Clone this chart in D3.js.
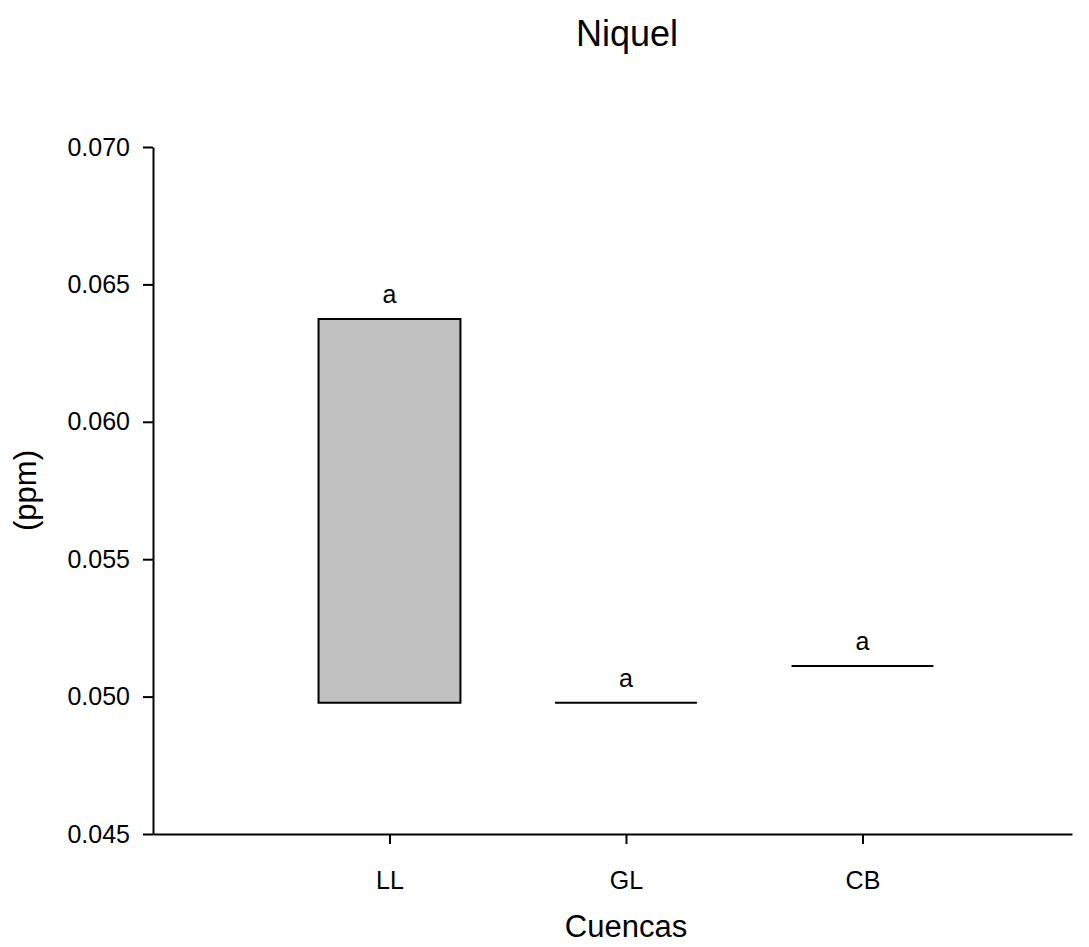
<!DOCTYPE html>
<html lang="es">
<head>
  <meta charset="UTF-8">
  <title>Niquel</title>
  <script src="https://d3js.org/d3.v7.min.js"></script>
  <style>
    body {
      margin: 0;
      background: #fff;
      font-family: Arial, "Liberation Sans", sans-serif;
    }
    .axis path, .axis line {
      stroke: #000;
      stroke-width: 2;
    }
    .axis text {
      font-size: 25px;
      fill: #000;
    }
  </style>
</head>
<body>
  <div id="chart"></div>
  <script>
    // datos (ppm)
    const cuencas = ["LL", "GL", "CB"];
    const q1 = [0.04978, 0.04978, 0.05111];
    const q3 = [0.06374, 0.04978, 0.05111];
    const letras = ["a", "a", "a"];
    const yTicks = [0.045, 0.050, 0.055, 0.060, 0.065, 0.070];

    const width = 1089, height = 947;

    const svg = d3.select("#chart")
      .append("svg")
      .attr("width", width)
      .attr("height", height);

    // posiciones 1,2,3 sobre un eje lineal
    const x = d3.scaleLinear().domain([0, 3.886]).range([153, 1072]);
    const y = d3.scaleLinear().domain([0.045, 0.070]).range([834, 147]);
    const boxW = x(0.6) - x(0);

    // eje y
    svg.append("g")
      .attr("class", "axis")
      .attr("transform", `translate(${x(0)},0)`)
      .call(d3.axisLeft(y).tickValues(yTicks).tickFormat(d3.format(".3f")).tickSize(10).tickSizeOuter(0).tickPadding(13));

    // eje x
    svg.append("g")
      .attr("class", "axis")
      .attr("transform", `translate(0,${y(0.045)})`)
      .call(d3.axisBottom(x).tickValues([1, 2, 3]).tickFormat((d, i) => cuencas[i]).tickSize(10).tickSizeOuter(0).tickPadding(27));

    const data = cuencas.map((c, i) => ({ c, pos: i + 1, q1: q1[i], q3: q3[i], letra: letras[i] }));

    // cajas (path, para que las de altura cero se vean como linea)
    svg.selectAll(".caja")
      .data(data)
      .join("path")
      .attr("class", "caja")
      .attr("d", d => {
        const x0 = x(d.pos) - boxW / 2, x1 = x(d.pos) + boxW / 2;
        return `M${x0},${y(d.q3)}H${x1}V${y(d.q1)}H${x0}Z`;
      })
      .attr("fill", "#c0c0c0")
      .attr("stroke", "#000")
      .attr("stroke-width", 2);

    // letras
    svg.selectAll(".letra")
      .data(data)
      .join("text")
      .attr("class", "letra")
      .attr("x", d => x(d.pos))
      .attr("y", d => y(d.q3) - 16)
      .attr("text-anchor", "middle")
      .style("font-size", "25px")
      .text(d => d.letra);

    // titulo
    svg.append("text")
      .attr("x", 627)
      .attr("y", 46)
      .attr("text-anchor", "middle")
      .style("font-size", "36px")
      .text("Niquel");

    svg.append("text")
      .attr("x", 626)
      .attr("y", 937)
      .attr("text-anchor", "middle")
      .style("font-size", "31px")
      .text("Cuencas");

    svg.append("text")
      .attr("transform", `translate(36,${(y(0.045) + y(0.070)) / 2}) rotate(-90)`)
      .attr("text-anchor", "middle")
      .style("font-size", "31px")
      .text("(ppm)");
  </script>
</body>
</html>
